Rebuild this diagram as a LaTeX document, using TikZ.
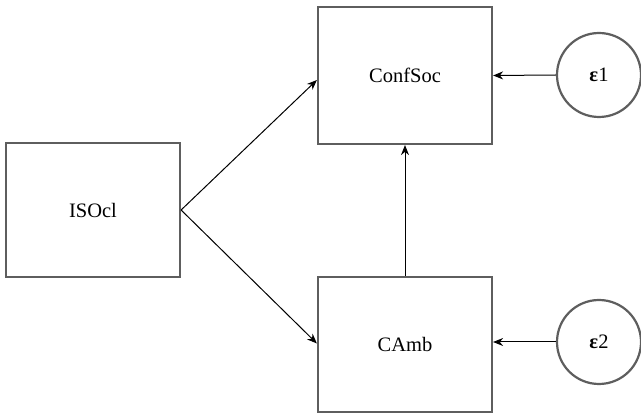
\documentclass[tikz,border=0pt]{standalone}
\usepackage{fontspec}
\setmainfont{Liberation Serif}
\usetikzlibrary{arrows.meta,calc}
\definecolor{boxgray}{HTML}{5E5E5E}
\tikzset{
  varbox/.style={draw=boxgray, line width=2.2pt, minimum width=174pt, minimum height=135pt, inner sep=0pt, font=\rmfamily\fontsize{20.5}{24}\selectfont},
  errcirc/.style={draw=boxgray, line width=2.2pt, circle, minimum size=84pt, inner sep=0pt, font=\rmfamily\fontsize{20.5}{24}\selectfont},
  path/.style={draw=black, line width=1pt, -{Stealth[length=10pt,width=8pt]}}
}
\begin{document}
\begin{tikzpicture}[x=1pt,y=-1pt]
\useasboundingbox (0,0) rectangle (641,414);
\clip (0,0) rectangle (641,414);
\node[varbox, minimum height=134pt] (isocl) at (93,210) {ISOcl};
\node[varbox, minimum height=137pt] (confsoc) at (405,75.5) {ConfSoc};
\node[varbox] (camb) at (405,344.5) {CAmb};
\node[errcirc] (e1) at (599,75) {\textbf{ε}1};
\node[errcirc] (e2) at (599,342) {\textbf{ε}2};
\draw[path] (isocl.east) -- ($(confsoc.west)+(0,4.5)$);
\draw[path] (isocl.east) -- ($(camb.west)+(0,-1)$);
\draw[path] (camb.north) -- (confsoc.south);
\draw[path] (e1.west) -- (confsoc.east);
\draw[path] (e2.west) -- (camb.east |- e2.west);
\end{tikzpicture}
\end{document}
